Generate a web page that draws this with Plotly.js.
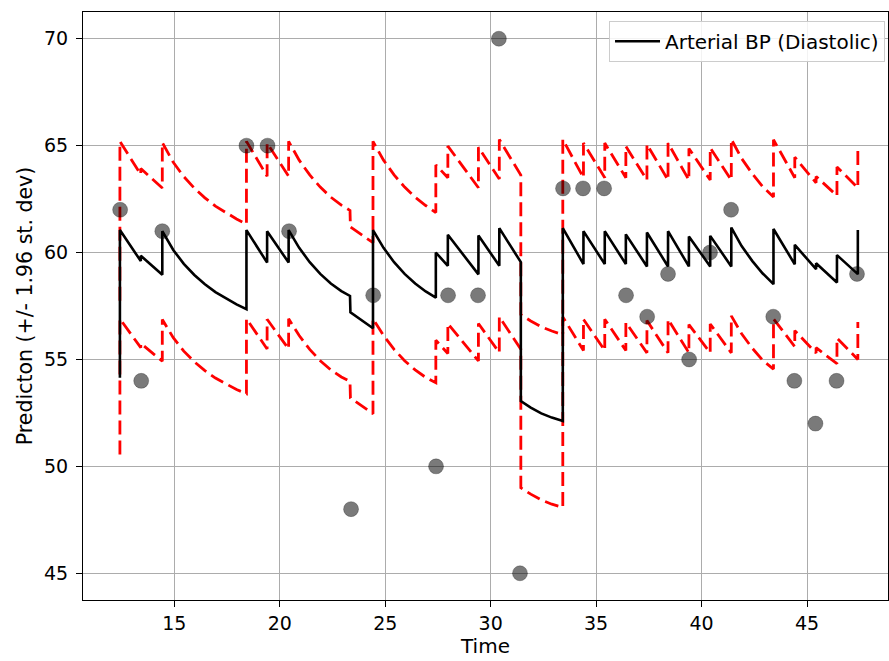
<!DOCTYPE html>
<html>
<head>
<meta charset="utf-8">
<script src="https://cdn.plot.ly/plotly-3.0.1.min.js"></script>
<style>html,body{margin:0;padding:0;background:#fff;}#chart{width:889px;height:661px;}</style>
</head>
<body>
<div id="chart"></div>
<script>
// Observations (grey points)
const obsTime = [12.43, 13.43, 14.43, 18.42, 19.42, 20.44, 23.38, 24.43, 27.41, 27.98, 29.40, 30.39, 31.39, 33.43, 34.38, 35.38, 36.42, 37.42, 38.41, 39.41, 40.40, 41.40, 43.40, 44.40, 45.40, 46.40, 47.37];
const obsValue = [62, 54, 61, 65, 65, 61, 48, 58, 50, 58, 58, 70, 45, 63, 63, 63, 58, 57, 59, 55, 60, 62, 57, 54, 52, 54, 59];

// Predicted mean (black line)
const predTime = [12.42, 12.42, 13.41, 13.41, 14.43, 14.43, 14.95, 15.45, 15.95, 16.45, 16.95, 17.45, 17.95, 18.42,
  18.42, 19.40, 19.40, 20.42, 20.42, 20.92, 21.42, 21.92, 22.42, 22.92, 23.33, 23.35, 24.42,
  24.42, 24.92, 25.42, 25.92, 26.42, 26.92, 27.40, 27.40, 27.97, 27.97, 29.42, 29.42, 30.41, 30.41, 31.43,
  31.43, 31.90, 32.40, 32.90, 33.42, 33.42, 34.40, 34.40, 35.41, 35.41, 36.41, 36.41, 37.41, 37.41, 38.41, 38.41,
  39.40, 39.40, 40.41, 40.41, 41.41, 41.41, 41.90, 42.41, 42.90, 43.41, 43.41, 44.42, 44.42, 45.43, 45.43,
  46.42, 46.42, 47.41, 47.41];
const predMean = [54.15, 61.05, 59.60, 59.85, 58.96, 61.00, 60.12, 59.47, 58.95, 58.52, 58.15, 57.85, 57.58, 57.35,
  61.05, 59.53, 61.00, 59.53, 61.05, 60.22, 59.55, 59.00, 58.55, 58.20, 57.97, 57.20, 56.46,
  61.05, 60.22, 59.55, 59.00, 58.55, 58.18, 57.89, 60.00, 59.38, 60.83, 58.98, 60.80, 59.38, 61.14, 59.55,
  53.05, 52.75, 52.48, 52.28, 52.12, 61.14, 59.46, 61.00, 59.46, 61.00, 59.46, 60.85, 59.35, 60.94, 59.35, 61.00,
  59.35, 60.75, 59.35, 60.78, 59.35, 61.17, 60.30, 59.60, 59.02, 58.52, 61.10, 59.45, 60.36, 59.22, 59.50,
  58.60, 59.88, 58.99, 61.05];
// Upper bound (+1.96 st. dev)
const predUpper = [57.75, 65.20, 63.65, 63.93, 63.02, 65.15, 64.22, 63.55, 63.01, 62.56, 62.17, 61.85, 61.57, 61.33,
  65.20, 63.57, 65.12, 63.57, 65.20, 64.32, 63.63, 63.06, 62.59, 62.22, 61.97, 61.20, 60.46,
  65.20, 64.32, 63.63, 63.06, 62.59, 62.20, 61.87, 64.10, 63.50, 64.98, 63.03, 64.92, 63.44, 65.29, 63.62,
  57.10, 56.80, 56.53, 56.33, 56.16, 65.29, 63.50, 65.12, 63.50, 65.12, 63.50, 64.97, 63.39, 65.06, 63.39, 65.12,
  63.39, 64.87, 63.39, 64.90, 63.39, 65.30, 64.40, 63.68, 63.08, 62.60, 65.28, 63.50, 64.46, 63.26, 63.56,
  62.66, 64.00, 63.03, 65.00];
// Lower bound (-1.96 st. dev)
const predLower = [50.55, 56.90, 55.55, 55.75, 54.92, 56.87, 56.02, 55.39, 54.89, 54.48, 54.13, 53.85, 53.59, 53.40,
  56.90, 55.49, 56.88, 55.49, 56.90, 56.12, 55.47, 54.94, 54.51, 54.18, 53.97, 53.20, 52.46,
  56.90, 56.12, 55.47, 54.94, 54.51, 54.16, 53.91, 55.90, 55.28, 56.68, 54.93, 56.68, 55.32, 56.99, 55.48,
  49.00, 48.70, 48.43, 48.23, 48.08, 56.99, 55.42, 56.88, 55.42, 56.88, 55.42, 56.73, 55.31, 56.82, 55.31, 56.88,
  55.31, 56.63, 55.31, 56.66, 55.31, 57.04, 56.20, 55.52, 54.96, 54.55, 56.90, 55.60, 56.35, 55.30, 55.55,
  54.80, 56.00, 55.00, 56.75];

const xTicks = [15, 20, 25, 30, 35, 40, 45];
const yTicks = [45, 50, 55, 60, 65, 70];

const FONT = 'DejaVu Sans, Liberation Sans, sans-serif';
const FS = 19;
const redDash = {color: '#ff0000', width: 2.8, dash: '14px,6px'};

const traces = [
  {x: predTime, y: predUpper, type: 'scatter', mode: 'lines', line: redDash, showlegend: false, hoverinfo: 'skip'},
  {x: predTime, y: predLower, type: 'scatter', mode: 'lines', line: redDash, showlegend: false, hoverinfo: 'skip'},
  {x: predTime, y: predMean, type: 'scatter', mode: 'lines', name: 'Arterial BP (Diastolic)',
   line: {color: '#000000', width: 2.6}},
  {x: obsTime, y: obsValue, type: 'scatter', mode: 'markers', showlegend: false,
   marker: {size: 15, color: 'rgba(0,0,0,0.52)', line: {color: 'rgba(0,0,0,0.25)', width: 1}}}
];

const axisCommon = {
  showgrid: true, gridcolor: '#acacac', gridwidth: 1,
  showline: true, mirror: true, linecolor: '#000000', linewidth: 1,
  ticks: 'outside', ticklen: 6, tickwidth: 1, tickcolor: '#000000',
  zeroline: false,
  tickfont: {family: FONT, size: FS, color: '#000000'}
};

const layout = {
  width: 889, height: 661,
  margin: {l: 83, r: 1, t: 12, b: 61},
  paper_bgcolor: '#ffffff', plot_bgcolor: '#ffffff',
  font: {family: FONT, size: FS, color: '#000000'},
  xaxis: Object.assign({}, axisCommon, {
    range: [10.67, 48.84], tickmode: 'array', tickvals: xTicks, ticktext: xTicks.map(String),
    ticklabelstandoff: 0,
    title: {text: 'Time', font: {family: FONT, size: 20, color: '#000000'}, standoff: 5}
  }),
  yaxis: Object.assign({}, axisCommon, {
    range: [43.75, 71.25], tickmode: 'array', tickvals: yTicks, ticktext: yTicks.map(String),
    ticklabelstandoff: 4,
    title: {text: 'Predicton (+/- 1.96 st. dev)', font: {family: FONT, size: 20.5, color: '#000000'}, standoff: 5}
  }),
  showlegend: true,
  legend: {
    x: 0.9963, y: 0.985, xanchor: 'right', yanchor: 'top',
    itemwidth: 45,
    bgcolor: 'rgba(255,255,255,0.85)', bordercolor: '#cccccc', borderwidth: 1,
    font: {family: FONT, size: 20, color: '#000000'}
  }
};

Plotly.newPlot('chart', traces, layout, {displayModeBar: false, staticPlot: true});
</script>
</body>
</html>
